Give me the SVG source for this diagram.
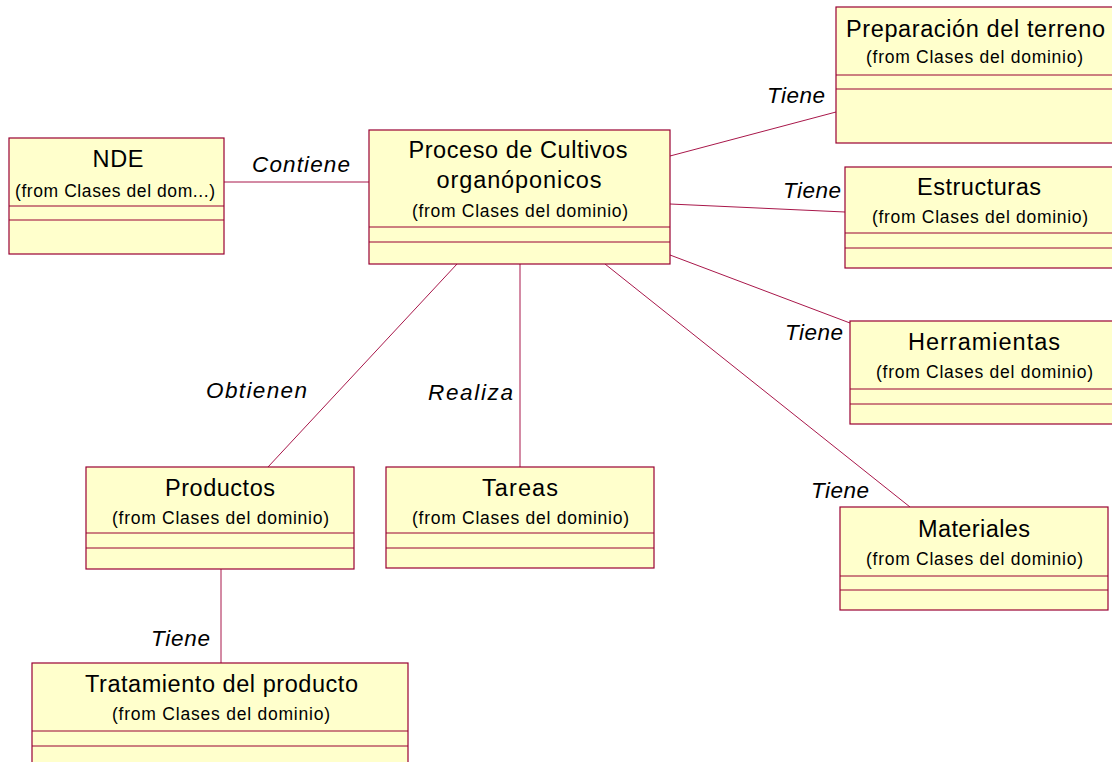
<svg xmlns="http://www.w3.org/2000/svg" width="1112" height="762" viewBox="0 0 1112 762">
<style>
.box{fill:#FFFFCC;stroke:#990033;stroke-width:1.2}
.sep{stroke:#990033;stroke-width:1}
.t{font-family:"Liberation Sans",Arial,sans-serif;font-size:23.5px;fill:#000;text-anchor:middle}
.s{font-family:"Liberation Sans",Arial,sans-serif;font-size:17.5px;fill:#000;text-anchor:middle}
.l{font-family:"Liberation Sans",Arial,sans-serif;font-size:22.5px;font-style:italic;fill:#000}
.c{stroke:#A8174A;stroke-width:1;fill:none}
</style>
<rect width="1112" height="762" fill="#fff"/>
<g id="connectors">
<line class="c" x1="224" y1="182" x2="369" y2="182"/>
<line class="c" x1="670" y1="156" x2="836" y2="112"/>
<line class="c" x1="670" y1="204" x2="845" y2="212"/>
<line class="c" x1="670" y1="255" x2="850" y2="323"/>
<line class="c" x1="605" y1="264" x2="910" y2="507"/>
<line class="c" x1="457" y1="264" x2="268" y2="467"/>
<line class="c" x1="520" y1="264" x2="520" y2="467"/>
<line class="c" x1="221" y1="569" x2="221" y2="663"/>
<text class="l" x="252" y="172" textLength="98">Contiene</text>
<text class="l" x="767" y="103" textLength="58">Tiene</text>
<text class="l" x="783" y="198" textLength="58">Tiene</text>
<text class="l" x="785" y="340" textLength="58">Tiene</text>
<text class="l" x="811" y="498" textLength="58">Tiene</text>
<text class="l" x="206" y="398" textLength="101">Obtienen</text>
<text class="l" x="428" y="400" textLength="85">Realiza</text>
<text class="l" x="151" y="646" textLength="59">Tiene</text>
</g>
<g id="nde">
<rect class="box" x="9" y="138" width="215" height="116"/>
<line class="sep" x1="9" y1="206" x2="224" y2="206"/>
<line class="sep" x1="9" y1="220" x2="224" y2="220"/>
<text class="t" x="118" y="167" textLength="51">NDE</text>
<text class="s" x="115" y="197" textLength="200">(from Clases del dom...)</text>
</g>
<g id="proceso">
<rect class="box" x="369" y="130" width="301" height="134"/>
<line class="sep" x1="369" y1="227" x2="670" y2="227"/>
<line class="sep" x1="369" y1="242" x2="670" y2="242"/>
<text class="t" x="518" y="158" textLength="219">Proceso de Cultivos</text>
<text class="t" x="519" y="188" textLength="165">organóponicos</text>
<text class="s" x="520" y="217" textLength="216">(from Clases del dominio)</text>
</g>
<g id="preparacion">
<rect class="box" x="836" y="7" width="280" height="136"/>
<line class="sep" x1="836" y1="75" x2="1116" y2="75"/>
<line class="sep" x1="836" y1="89" x2="1116" y2="89"/>
<text class="t" x="975.5" y="37" textLength="259">Preparación del terreno</text>
<text class="s" x="974.5" y="63" textLength="217">(from Clases del dominio)</text>
</g>
<g id="estructuras">
<rect class="box" x="845" y="167" width="272" height="101"/>
<line class="sep" x1="845" y1="233" x2="1117" y2="233"/>
<line class="sep" x1="845" y1="248" x2="1117" y2="248"/>
<text class="t" x="979" y="195" textLength="124">Estructuras</text>
<text class="s" x="980" y="223" textLength="216">(from Clases del dominio)</text>
</g>
<g id="herramientas">
<rect class="box" x="850" y="321" width="270" height="103"/>
<line class="sep" x1="850" y1="389" x2="1120" y2="389"/>
<line class="sep" x1="850" y1="404" x2="1120" y2="404"/>
<text class="t" x="984" y="350" textLength="152">Herramientas</text>
<text class="s" x="984.5" y="378" textLength="217">(from Clases del dominio)</text>
</g>
<g id="materiales">
<rect class="box" x="840" y="507" width="268" height="103"/>
<line class="sep" x1="840" y1="576" x2="1108" y2="576"/>
<line class="sep" x1="840" y1="590" x2="1108" y2="590"/>
<text class="t" x="974" y="537" textLength="112">Materiales</text>
<text class="s" x="974.5" y="565" textLength="217">(from Clases del dominio)</text>
</g>
<g id="productos">
<rect class="box" x="86" y="467" width="268" height="102"/>
<line class="sep" x1="86" y1="533" x2="354" y2="533"/>
<line class="sep" x1="86" y1="548" x2="354" y2="548"/>
<text class="t" x="220" y="496" textLength="110">Productos</text>
<text class="s" x="220.5" y="524" textLength="217">(from Clases del dominio)</text>
</g>
<g id="tareas">
<rect class="box" x="386" y="467" width="268" height="101"/>
<line class="sep" x1="386" y1="533" x2="654" y2="533"/>
<line class="sep" x1="386" y1="548" x2="654" y2="548"/>
<text class="t" x="520" y="496" textLength="76">Tareas</text>
<text class="s" x="520.5" y="524" textLength="217">(from Clases del dominio)</text>
</g>
<g id="tratamiento">
<rect class="box" x="32" y="663" width="376" height="110"/>
<line class="sep" x1="32" y1="731" x2="408" y2="731"/>
<line class="sep" x1="32" y1="746" x2="408" y2="746"/>
<text class="t" x="221.5" y="692" textLength="273">Tratamiento del producto</text>
<text class="s" x="221" y="720" textLength="218">(from Clases del dominio)</text>
</g>
</svg>
